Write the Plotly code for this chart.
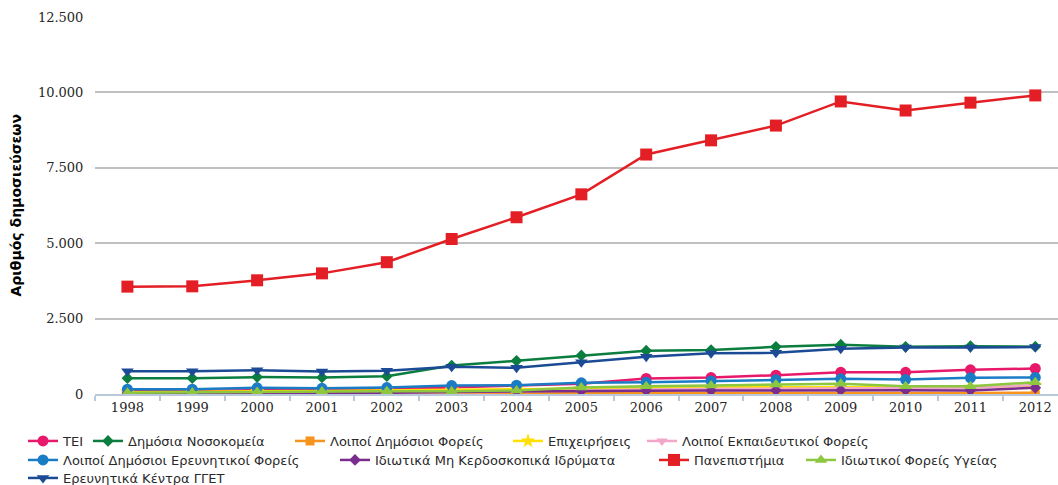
import plotly.graph_objects as go

# Years on the category axis
years = [str(y) for y in range(1998, 2013)]

# Number of publications per sector and year
tei = [90, 100, 120, 140, 160, 220, 260, 340, 515, 545, 625, 720, 720, 800, 845]
nosokomeia = [525, 525, 560, 550, 590, 945, 1100, 1280, 1435, 1455, 1565, 1635, 1565, 1585, 1570]
loipoi_dimosioi = [15, 15, 20, 20, 20, 20, 25, 25, 25, 30, 30, 30, 30, 35, 40]
epixeiriseis = [60, 65, 90, 100, 110, 140, 160, 185, 210, 220, 225, 230, 220, 225, 280]
loipoi_ekpaideftikoi = [20, 25, 30, 35, 40, 60, 80, 120, 150, 170, 180, 190, 200, 210, 300]
loipoi_erevnitikoi = [160, 160, 205, 190, 215, 280, 290, 370, 390, 435, 470, 505, 480, 535, 550]
idiotika_mk = [20, 25, 30, 35, 40, 70, 90, 100, 110, 115, 125, 125, 125, 120, 205]
panepistimia = [3560, 3570, 3770, 4000, 4370, 5140, 5860, 6620, 7940, 8410, 8900, 9700, 9400, 9660, 9900]
ygeias = [45, 50, 70, 80, 90, 95, 115, 215, 260, 280, 315, 340, 260, 260, 390]
kentra_gget = [755, 755, 790, 750, 770, 900, 870, 1055, 1235, 1355, 1365, 1500, 1545, 1545, 1555]

y_ticks = [0, 2500, 5000, 7500, 10000, 12500]
y_title = "Αριθμός δημοσιεύσεων"

series = [
    ("ΤΕΙ", tei, "#e8196a", "circle", 11),
    ("Δημόσια Νοσοκομεία", nosokomeia, "#0b7d3f", "diamond", 9),
    ("Λοιποί Δημόσιοι Φορείς", loipoi_dimosioi, "#f7941d", "square", 9),
    ("Επιχειρήσεις", epixeiriseis, "#ffe000", "star", 11),
    ("Λοιποί Εκπαιδευτικοί Φορείς", loipoi_ekpaideftikoi, "#f2a7c9", "triangle-down", 10),
    ("Λοιποί Δημόσιοι Ερευνητικοί Φορείς", loipoi_erevnitikoi, "#1a7cc5", "circle", 11),
    ("Ιδιωτικά Μη Κερδοσκοπικά Ιδρύματα", idiotika_mk, "#7b2d8e", "diamond", 9),
    ("Πανεπιστήμια", panepistimia, "#e31e24", "square", 12),
    ("Ιδιωτικοί Φορείς Υγείας", ygeias, "#8dc63f", "triangle-up", 11),
    ("Ερευνητικά Κέντρα ΓΓΕΤ", kentra_gget, "#1c4b96", "triangle-down", 11),
]

# Legend entry placement (left edge of text in px, row centre in px)
legend_slots = [
    (63, 441), (128, 441), (330, 441), (548, 441), (682, 441),
    (63, 460), (375, 460), (694, 460), (841, 460),
    (63, 478),
]

W, H = 1058, 485
ML, MR, MT, MB = 95, 0, 17, 91

fig = go.Figure()
layout_legends = {}
for i, (name, vals, color, symbol, size) in enumerate(series):
    key = "legend" if i == 0 else f"legend{i + 1}"
    fig.add_trace(go.Scatter(
        x=years, y=vals, name=name, mode="lines+markers",
        line=dict(color=color, width=2.5),
        marker=dict(symbol=symbol, size=size, color=color),
        legend=key,
    ))
    tx, ty = legend_slots[i]
    layout_legends[key] = dict(
        xref="container", yref="container",
        x=(tx - 40) / W, y=1 - ty / H,
        xanchor="left", yanchor="middle",
        bgcolor="rgba(0,0,0,0)",
        font=dict(family="DejaVu Sans", size=13, color="#2a2a2a"),
        itemwidth=30,
    )

fig.update_layout(
    width=W, height=H,
    margin=dict(l=ML, r=MR, t=MT, b=MB, autoexpand=False),
    plot_bgcolor="white", paper_bgcolor="white",
    separators=",.",
    showlegend=True,
    **layout_legends,
)

# Rotated y-axis title, centred on the plot area
fig.add_annotation(
    text=y_title, textangle=-90, showarrow=False,
    xref="paper", yref="paper",
    x=(15 - ML) / (W - ML - MR), y=0.5,
    xanchor="center", yanchor="middle",
    font=dict(family="DejaVu Sans", size=14, color="#000000", weight="bold"),
)

fig.update_xaxes(
    type="category",
    range=[-0.5, 14.35],
    showline=True, linecolor="#b9c8da", linewidth=2,
    ticks="outside", tickson="boundaries", ticklen=5, tickcolor="#b9c8da", tickwidth=2,
    showgrid=False,
    tickfont=dict(family="DejaVu Serif", size=13, color="#262626"),
)

fig.update_yaxes(
    range=[0, 12500],
    tickvals=y_ticks, tickformat=",d",
    showgrid=True, gridcolor="#c0c0c0", gridwidth=2,
    zeroline=False, showline=False,
    ticks="outside", ticklen=8, tickcolor="rgba(0,0,0,0)",
    tickfont=dict(family="DejaVu Serif", size=13, color="#262626"),
)

fig.write_html("out.html")
